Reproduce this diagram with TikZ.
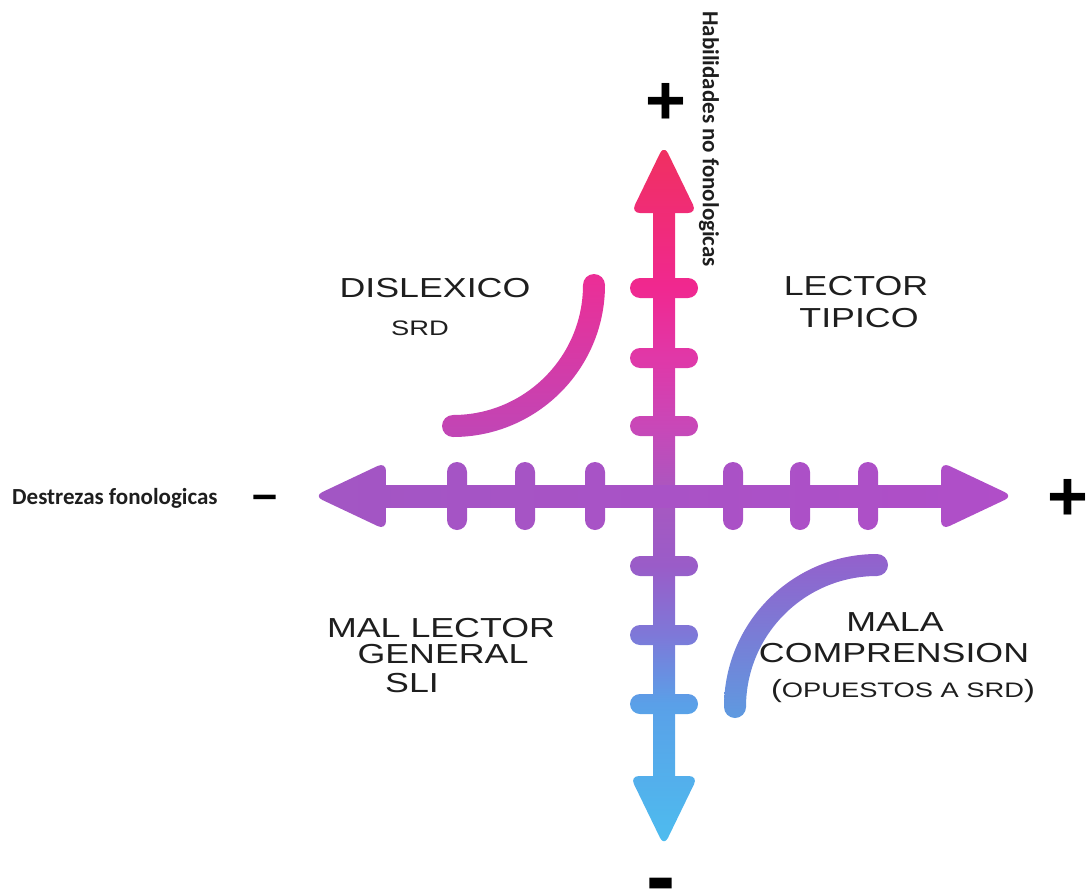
\documentclass[tikz,border=0pt]{standalone}
\usepackage{fontspec}
\newfontfamily\widefont[FakeStretch=1.3]{Liberation Sans}
\newfontfamily\calfont{Carlito}
\newfontfamily\symfont{Liberation Sans}
\definecolor{vA}{HTML}{4DBDEF}
\definecolor{vB}{HTML}{5AA0E8}
\definecolor{vC}{HTML}{7E78D8}
\definecolor{vD}{HTML}{9A5CC8}
\definecolor{vE}{HTML}{A858C0}
\definecolor{vF}{HTML}{C848B8}
\definecolor{vG}{HTML}{E038A8}
\definecolor{vH}{HTML}{F02890}
\definecolor{vI}{HTML}{F0305F}
\definecolor{hA}{HTML}{A256C4}
\definecolor{hB}{HTML}{B04EC8}
\definecolor{aT}{HTML}{EC2E96}
\definecolor{aB}{HTML}{C046B6}
\definecolor{bT}{HTML}{9460CC}
\definecolor{bB}{HTML}{5E9AE0}
\definecolor{ink}{HTML}{1E1E1E}
\pgfdeclareverticalshading{vaxis}{100bp}{color(0bp)=(vA); color(25bp)=(vA); color(35bp)=(vB); color(40bp)=(vC); color(45bp)=(vD); color(50bp)=(vE); color(55bp)=(vF); color(60bp)=(vG); color(65bp)=(vH); color(75bp)=(vI); color(100bp)=(vI)}
\begin{document}
\begin{tikzpicture}[x=1pt,y=-1pt,
  vgrad/.style={path picture={\shade[shading=vaxis] (600,150) rectangle (720,842);}},
  hgrad/.style={path picture={\shade[left color=hA,right color=hB] (316,440) rectangle (1012,550);}},
  agrad/.style={path picture={\shade[top color=aT,bottom color=aB] (430,274) rectangle (610,437);}},
  bgrad/.style={path picture={\shade[top color=bT,bottom color=bB] (715,554) rectangle (890,718);}},
  lab/.style={font=\widefont\fontsize{27.5}{30}\selectfont, text=ink, inner sep=0pt, anchor=base},
  labs/.style={font=\widefont\fontsize{21}{24}\selectfont, text=ink, inner sep=0pt, anchor=base},
  axlab/.style={font=\calfont\bfseries\fontsize{23}{26}\selectfont, text=ink, inner sep=0pt},
  sgn/.style={font=\symfont\bfseries\fontsize{70}{70}\selectfont, text=black, inner sep=0pt, anchor=base},
  dsh/.style={font=\symfont\bfseries\fontsize{45}{45}\selectfont, text=black, inner sep=0pt, anchor=base}
]
\useasboundingbox (0,0) rectangle (1088,894);
% vertical axis
\path[vgrad] (653,200) rectangle (675,790);
\foreach \yy in {288,358,426,566,635,704}
  \path[vgrad, rounded corners=10] (630,\yy-10) rectangle (698,\yy+10);
\path[vgrad, rounded corners=9] (631,213) -- (664,145) -- (697,213) -- cycle;
\path[vgrad, rounded corners=9] (630,776) -- (664,846) -- (698,776) -- cycle;
% horizontal axis
\path[hgrad] (370,485) rectangle (955,507);
\foreach \xx in {457,525,595,733,800,868}
  \path[hgrad, rounded corners=10] (\xx-10,462) rectangle (\xx+10,530);
\path[hgrad, rounded corners=9] (386,462) -- (314,496) -- (386,530) -- cycle;
\path[hgrad, rounded corners=9] (941,462) -- (1013,496) -- (941,530) -- cycle;
% arc dislexico
\path[agrad] (605,285) arc[start angle=0,end angle=90,radius=152] -- (453,415) arc[start angle=90,end angle=0,radius=130] -- cycle;
\path[agrad] (594,285) circle[radius=11];
\path[agrad] (453,426) circle[radius=11];
% arc mala comprension
\path[bgrad] (724,707) arc[start angle=180,end angle=270,radius=153] -- (877,576) arc[start angle=270,end angle=180,radius=131] -- cycle;
\path[bgrad] (877,565) circle[radius=11];
\path[bgrad] (735,707) circle[radius=11];
% labels
\node[lab] (dis) at (435,297) {DISLEXICO};
\node[labs] (srd) at (420,335) {SRD};
\node[lab] (lec) at (856,295) {LECTOR};
\node[lab] (tip) at (859,327) {TIPICO};
\node[lab] (mal) at (441,637) {MAL LECTOR};
\node[lab] (gen) at (443,663) {GENERAL};
\node[lab] (sli) at (412,692) {SLI};
\node[lab] (mala) at (895,631) {MALA};
\node[lab] (comp) at (894,662) {COMPRENSION};
\node[labs] (opu) at (903,697) {{\fontsize{25}{25}\selectfont(}OPUESTOS A SRD{\fontsize{25}{25}\selectfont)}};
\node[axlab, anchor=base west] (dest) at (12,504) {Destrezas fonologicas};
\node[axlab, rotate=-90] (habi) at (709,139) {Habilidades no fonologicas};
\node[sgn] (ptop) at (666,124) {+};
\node[sgn] (pright) at (1068,520) {+};
\node[dsh] (mleft) at (265,509) {–};
\node[dsh, yscale=2.4] (mbot) at (661,891) {\raisebox{-0.2em}[0.12em][0pt]{–}};
\end{tikzpicture}
\end{document}
